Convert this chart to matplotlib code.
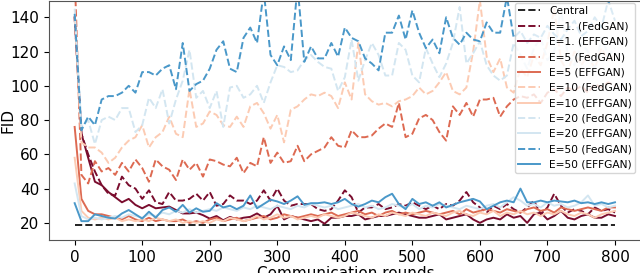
import matplotlib
matplotlib.use("Agg")
import matplotlib.pyplot as plt

# communication rounds, one point every 10 rounds
rounds = list(range(0, 801, 10))

central_fid = 19

e1_fed = [140, 72, 60, 50, 42, 37, 36, 47, 42, 40,
          34, 39, 32, 31, 38, 33, 33, 34, 37, 33,
          38, 30, 31, 36, 33, 33, 31, 33, 39, 33,
          40, 33, 30, 31, 31, 31, 28, 27, 28, 33,
          39, 35, 26, 29, 29, 31, 28, 29, 31, 30,
          32, 30, 28, 30, 28, 31, 30, 33, 38, 32,
          29, 26, 30, 28, 31, 28, 26, 29, 33, 25,
          29, 37, 30, 26, 28, 27, 25, 29, 27, 28,
          26]
e1_eff = [140, 72, 58, 44, 42, 38, 35, 32, 34, 30.5,
          28.5, 30.5, 28.5, 29, 29.5, 27.5, 25.5, 25.5, 26, 24.5,
          22.5, 24, 21.5, 23.5, 22, 23, 23.5, 25.5, 23, 25,
          30, 22, 24, 23, 22, 21, 22, 19.5, 23, 23,
          24, 24, 25, 22, 23, 24, 24, 25, 26, 25,
          24, 23, 23, 24, 25, 22, 23, 24, 25, 22,
          20, 22, 23, 22, 25, 23, 24, 20, 25, 26,
          22, 24, 27, 23, 22, 24, 25, 23, 23, 25,
          24]
e5_fed = [165, 48, 43, 56, 50, 52, 48, 55, 50, 57,
          52, 44, 57, 53, 51, 45, 57, 51, 55, 47,
          57, 56, 54, 53, 58, 49, 55, 53, 70, 55,
          61, 55, 56, 65, 56, 60, 62, 64, 70, 65,
          64, 74, 70, 70, 71, 75, 78, 76, 90, 70,
          72, 81, 83, 80, 73, 68, 88, 83, 90, 82,
          92, 92, 93, 82, 88, 92, 94, 93, 95, 90,
          96, 98, 94, 99, 97, 100, 96, 101, 99, 102,
          100]
e5_eff = [76, 34, 27, 25, 25, 24, 23, 22, 24, 22,
          21, 23, 21, 22, 21, 21, 22, 20, 21, 20,
          22, 23, 21, 22, 23, 21, 22, 23, 24, 22,
          23, 25, 24, 23, 24, 25, 24, 25, 26, 24,
          25, 26, 27, 25, 26, 24, 26, 27, 25, 26,
          25, 26, 27, 26, 25, 26, 27, 25, 28, 26,
          27, 28, 27, 26, 28, 27, 26, 28, 29, 27,
          28, 26, 29, 28, 27, 28, 29, 28, 27, 29,
          29]
e10_fed = [140, 67, 64, 64, 61, 55, 58, 64, 68, 70,
           77, 64, 70, 73, 82, 72, 70, 98, 76, 78,
           85, 83, 77, 76, 82, 76, 88, 90, 84, 75,
           83, 67, 86, 88, 92, 95, 94, 96, 94, 87,
           102, 92, 125, 95, 91, 89, 90, 88, 91, 92,
           94, 99, 95, 97, 102, 108, 97, 95, 99, 120,
           150, 117, 108, 116, 99, 96, 110, 105, 118, 112,
           125, 145, 115, 108, 120, 112, 118, 110, 122, 115,
           118]
e10_eff = [58, 27, 23, 22, 23, 22, 23, 21, 22, 21,
           22, 21, 23, 22, 21, 22, 20, 21, 20, 21,
           20, 22, 21, 23, 22, 21, 22, 24, 22, 23,
           25, 23, 24, 22, 23, 24, 23, 25, 24, 23,
           24, 26, 25, 24, 23, 25, 24, 26, 25, 24,
           26, 25, 24, 26, 25, 24, 26, 27, 25, 24,
           26, 25, 27, 24, 26, 25, 27, 25, 26, 24,
           26, 25, 27, 25, 24, 26, 25, 23, 25, 26,
           27]
e20_fed = [145, 76, 80, 66, 80, 82, 80, 87, 87, 73,
           77, 93, 87, 98, 78, 92, 103, 121, 93, 97,
           87, 97, 76, 99, 100, 93, 95, 100, 90, 102,
           112, 111, 108, 109, 115, 118, 114, 111, 110, 97,
           105, 127, 103, 115, 125, 118, 106, 106, 125, 121,
           106, 102, 122, 113, 105, 113, 125, 146, 113, 119,
           126, 112, 106, 103, 106, 125, 118, 110, 122, 128,
           115, 120, 145, 118, 112, 125, 120, 110, 128, 118,
           122]
e20_eff = [43, 24, 22, 23, 22, 23, 24, 23, 25, 24,
           23, 25, 24, 26, 25, 27, 26, 28, 26, 27,
           28, 27, 29, 28, 27, 29, 28, 30, 29, 28,
           30, 29, 28, 30, 29, 31, 30, 29, 30, 28,
           29, 30, 31, 29, 30, 28, 29, 31, 30, 29,
           31, 28, 30, 29, 31, 30, 29, 28, 30, 29,
           28, 30, 31, 29, 32, 35, 33, 30, 31, 29,
           32, 30, 31, 29, 30, 32, 36, 30, 31, 29,
           30]
e50_fed = [142, 74, 82, 77, 92, 94, 94, 96, 100, 96,
           108, 108, 106, 110, 112, 98, 125, 97, 101, 103,
           110, 121, 126, 110, 108, 128, 134, 125, 155, 118,
           112, 123, 115, 158, 114, 123, 116, 116, 125, 117,
           134, 128, 126, 116, 113, 109, 131, 131, 141, 127,
           144, 131, 122, 127, 119, 140, 128, 124, 131, 127,
           126, 137, 131, 131, 152, 128, 132, 125, 130, 128,
           135, 130, 127, 133, 138, 129, 132, 140, 134, 150,
           138]
e50_eff = [31.5, 21, 21, 25, 24, 23, 22.5, 25.5, 27.5, 25,
           22.5, 26.5, 23, 27.5, 29, 26.5, 30.5, 26, 28.5, 26.5,
           27, 31.5, 29, 30, 28, 30, 36, 28.5, 31, 33.5,
           32.5, 31, 33, 35.5, 30.5, 31.5, 31.5, 32, 31, 32,
           34, 31, 29.5, 31, 33, 32, 35, 37, 31, 28,
           34, 31, 32, 30, 32, 29, 30.5, 32, 33, 34,
           32.5, 28, 30, 32, 33, 32, 40, 32, 32, 33,
           32, 33, 32.5, 32, 33, 31.5, 32, 31, 32, 31,
           32]

series = [
    ("E=1. (FedGAN)", e1_fed, "#7a0d2e", "--"),
    ("E=1. (EFFGAN)", e1_eff, "#7a0d2e", "-"),
    ("E=5 (FedGAN)", e5_fed, "#dd6a52", "--"),
    ("E=5 (EFFGAN)", e5_eff, "#dd6a52", "-"),
    ("E=10 (FedGAN)", e10_fed, "#fccbb3", "--"),
    ("E=10 (EFFGAN)", e10_eff, "#fccbb3", "-"),
    ("E=20 (FedGAN)", e20_fed, "#d3e6f1", "--"),
    ("E=20 (EFFGAN)", e20_eff, "#d3e6f1", "-"),
    ("E=50 (FedGAN)", e50_fed, "#4a98c9", "--"),
    ("E=50 (EFFGAN)", e50_eff, "#4a98c9", "-"),
]

fig = plt.figure(figsize=(6.4, 2.73), dpi=100)
ax = fig.add_axes([49 / 640, 33 / 273, 593 / 640, 239 / 273])

ax.plot([rounds[0], rounds[-1]], [central_fid, central_fid],
        color="#222222", linestyle="--", linewidth=1.4, label="Central")
for label, values, color, style in series:
    ax.plot(rounds, values, color=color, linestyle=style, linewidth=1.4, label=label)

ax.set_xlim(-38, 840)
ax.set_ylim(10, 149.5)
ax.set_xticks(range(0, 801, 100))
ax.set_yticks(range(20, 141, 20))
ax.tick_params(labelsize=11)
ax.set_xlabel("Communication rounds", fontsize=11, labelpad=1)
ax.set_ylabel("FID", fontsize=11)
ax.yaxis.set_label_coords(-0.056, 0.5)
for spine in ax.spines.values():
    spine.set_color("#555555")

# legend box starts at about x=515 px and runs off the right edge
ax.legend(loc="upper left", bbox_to_anchor=(515 / 640, 1 - 3 / 273),
          bbox_transform=fig.transFigure, borderaxespad=0, borderpad=0.3,
          fontsize=7.7, labelspacing=0.5, handlelength=2.0, handletextpad=0.9)

fig.savefig("out.png", dpi=100)
